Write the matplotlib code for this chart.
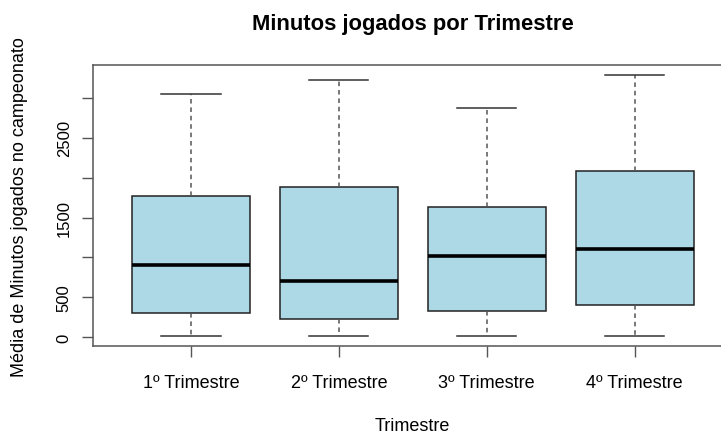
import matplotlib
matplotlib.use("Agg")
import matplotlib.pyplot as plt

plt.rcParams['font.family'] = ['Liberation Sans', 'DejaVu Sans']

# five-number summaries per quarter
trimestres = ['1º Trimestre', '2º Trimestre', '3º Trimestre', '4º Trimestre']
minimos = [15, 15, 15, 15]
q1 = [301, 229, 334, 405]
medianas = [902, 705, 1015, 1107]
q3 = [1767, 1887, 1637, 2080]
maximos = [3053, 3228, 2877, 3287]

yticks = [0, 500, 1000, 1500, 2000, 2500, 3000]
ylabels = ['0', '500', '', '1500', '', '2500', '']

stats = []
for i in range(len(trimestres)):
    stats.append({'whislo': minimos[i], 'q1': q1[i], 'med': medianas[i],
                  'q3': q3[i], 'whishi': maximos[i], 'fliers': []})

fig = plt.figure(figsize=(7.21, 4.35), dpi=100)
# plot region runs a bit past the right edge, as in the saved R device
ax = fig.add_axes([0.1294, 0.2016, 0.8863, 0.6467])

ax.bxp(stats, positions=[1, 2, 3, 4], widths=0.8, capwidths=0.4,
       patch_artist=True, showfliers=False,
       boxprops=dict(facecolor='#ADD8E6', edgecolor='#222222', linewidth=1.1),
       medianprops=dict(color='black', linewidth=2.6, solid_capstyle='butt'),
       whiskerprops=dict(color='#555555', linewidth=1.1, linestyle=(0, (3, 2.5))),
       capprops=dict(color='#333333', linewidth=1.1))

ax.set_xlim(0.34, 4.66)
ax.set_ylim(-113, 3412)
ax.set_xticks([1, 2, 3, 4])
ax.set_xticklabels(trimestres, fontsize=13)
ax.set_yticks(yticks)
ax.set_yticklabels(ylabels, fontsize=12, rotation=90, va='center')
ax.tick_params(axis='both', length=8, width=1, color='#555555')
ax.tick_params(axis='x', pad=12)
ax.tick_params(axis='y', pad=7.5)

for s in ax.spines.values():
    s.set_color('#555555')
    s.set_linewidth(1.1)

ax.set_xlabel('Trimestre', fontsize=13, labelpad=19)
ax.set_ylabel('Média de Minutos jogados no campeonato', fontsize=13, labelpad=21)
ax.set_title('Minutos jogados por Trimestre', fontsize=15.8, fontweight='bold', pad=26)

fig.savefig('out.png', dpi=100)
